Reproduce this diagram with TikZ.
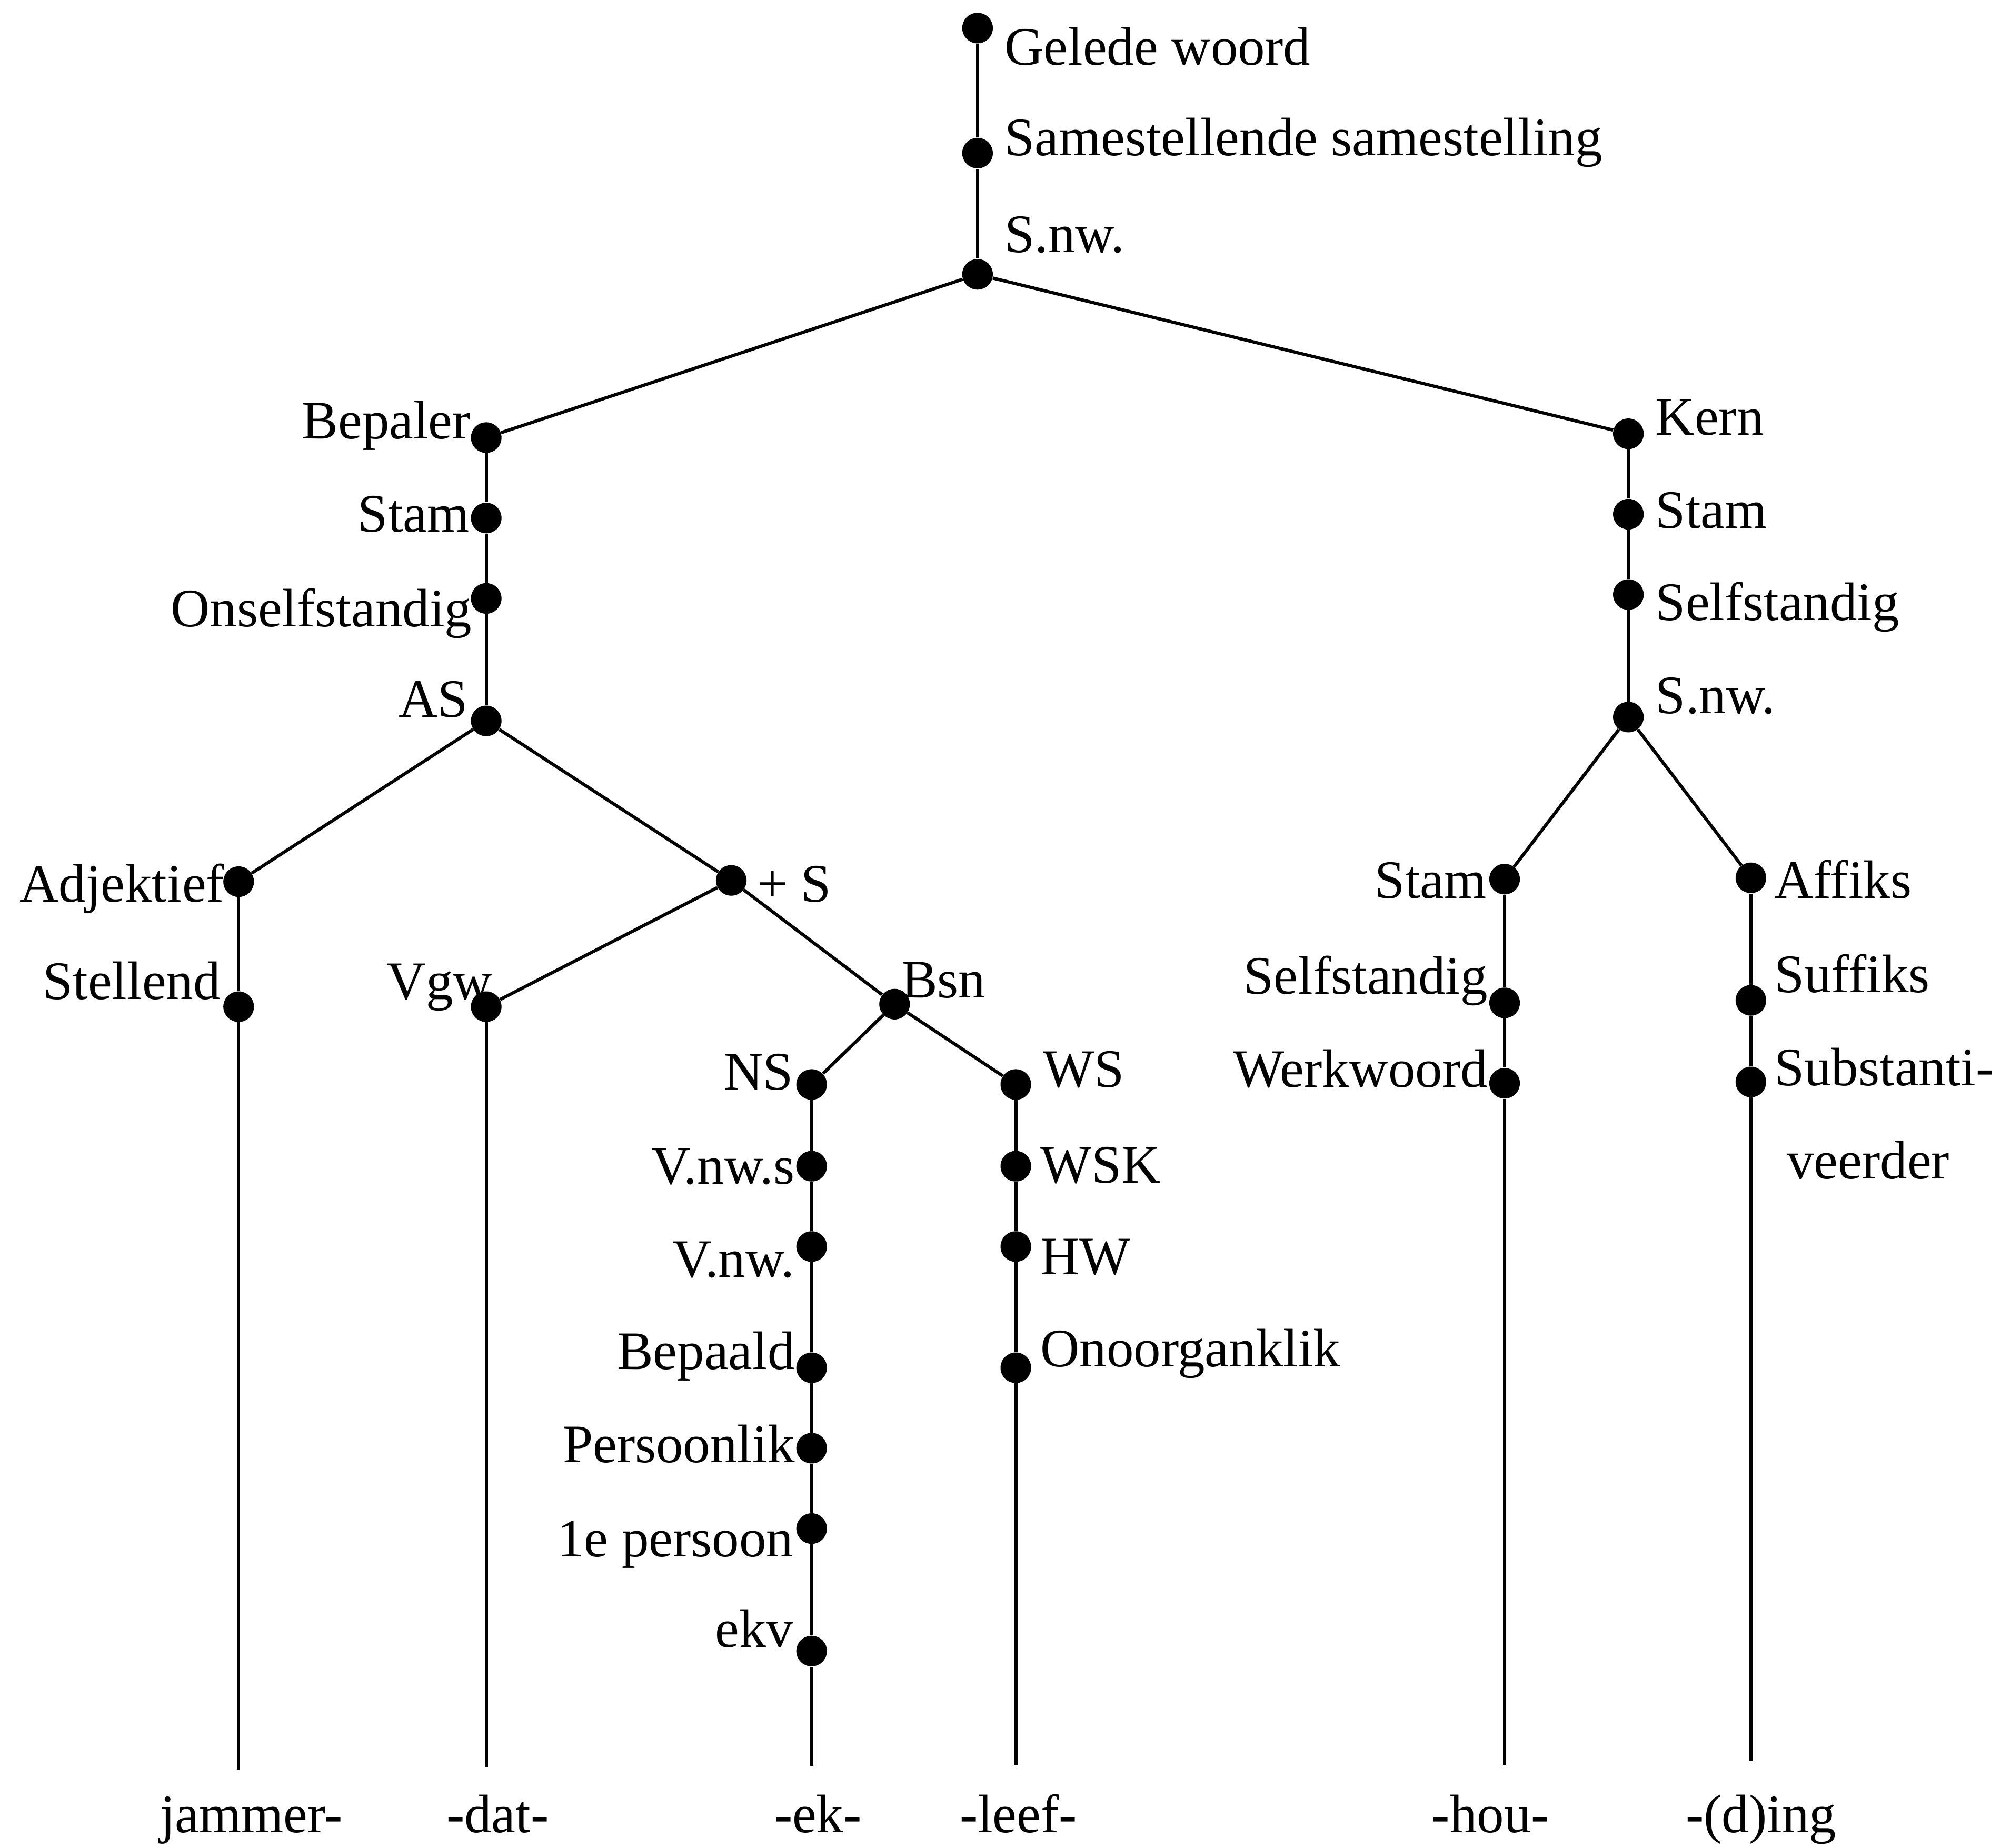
\documentclass[tikz,border=0pt]{standalone}
\usepackage{fontspec}
\setmainfont{Liberation Serif}
\begin{document}
\begin{tikzpicture}[x=0.025cm,y=-0.025cm,
  dot/.style={circle,fill=black,inner sep=0pt,minimum size=0.6cm},
  edge/.style={line width=1.8pt},
  lab/.style={inner sep=0pt,font=\fontsize{30.2}{34}\selectfont},
  labr/.style={lab,anchor=base west},
  labl/.style={lab,anchor=base east},
  word/.style={lab,anchor=base}]
\useasboundingbox (0,0) rectangle (1568,1448);

% dots of the tree
\node[dot] (gw)  at (766,22)  {};
\node[dot] (ss)  at (766,120) {};
\node[dot] (sn)  at (766,215) {};
\node[dot] (bp)  at (381,343) {};
\node[dot] (st1) at (381,406) {};
\node[dot] (on)  at (381,469) {};
\node[dot] (as)  at (381,565) {};
\node[dot] (adj) at (187,691) {};
\node[dot] (stl) at (187,789) {};
\node[dot] (ps)  at (573,690) {};
\node[dot] (vgw) at (381,789) {};
\node[dot] (bsn) at (701,787) {};
\node[dot] (ns)  at (636,850) {};
\node[dot] (vns) at (636,914) {};
\node[dot] (vn)  at (636,977) {};
\node[dot] (bpd) at (636,1072) {};
\node[dot] (prs) at (636,1135) {};
\node[dot] (ep)  at (636,1198) {};
\node[dot] (ekv) at (636,1294) {};
\node[dot] (ws)  at (796,850) {};
\node[dot] (wsk) at (796,914) {};
\node[dot] (hw)  at (796,977) {};
\node[dot] (oo)  at (796,1072) {};
\node[dot] (kn)  at (1276,340) {};
\node[dot] (st2) at (1276,403) {};
\node[dot] (sf1) at (1276,466) {};
\node[dot] (sn2) at (1276,562) {};
\node[dot] (st3) at (1179,689) {};
\node[dot] (sf2) at (1179,786) {};
\node[dot] (wk)  at (1179,849) {};
\node[dot] (af)  at (1372,688) {};
\node[dot] (sfx) at (1372,784) {};
\node[dot] (sub) at (1372,848) {};

% lower ends of the branches
\coordinate (e1) at (187,1387);
\coordinate (e2) at (381,1385);
\coordinate (e3) at (636,1384);
\coordinate (e4) at (796,1383);
\coordinate (e5) at (1179,1383);
\coordinate (e6) at (1372,1380);

% connectors
\draw[edge] (gw) -- (ss) -- (sn);
\draw[edge] (sn) -- (bp);
\draw[edge] (sn) -- (kn);
\draw[edge] (bp) -- (st1) -- (on) -- (as);
\draw[edge] (as) -- (adj);
\draw[edge] (as) -- (ps);
\draw[edge] (adj) -- (stl) -- (e1);
\draw[edge] (ps) -- (vgw);
\draw[edge] (vgw) -- (e2);
\draw[edge] (ps) -- (bsn);
\draw[edge] (bsn) -- (ns);
\draw[edge] (bsn) -- (ws);
\draw[edge] (ns) -- (vns) -- (vn) -- (bpd) -- (prs) -- (ep) -- (ekv) -- (e3);
\draw[edge] (ws) -- (wsk) -- (hw) -- (oo) -- (e4);
\draw[edge] (kn) -- (st2) -- (sf1) -- (sn2);
\draw[edge] (sn2) -- (st3);
\draw[edge] (sn2) -- (af);
\draw[edge] (st3) -- (sf2) -- (wk) -- (e5);
\draw[edge] (af) -- (sfx) -- (sub) -- (e6);

% labels
\node[labr] (lgw)  at (787,51)   {Gelede woord};
\node[labr] (lss)  at (787,122)  {Samestellende samestelling};
\node[labr] (lsn)  at (787,198)  {S.nw.};
\node[labl] (lbp)  at (369,344)  {Bepaler};
\node[labl] (lst1) at (368,417)  {Stam};
\node[labl] (lon)  at (370,491)  {Onselfstandig};
\node[labl] (las)  at (367,562)  {AS};
\node[labl] (ladj) at (176,707)  {Adjektief};
\node[labl] (lstl) at (173,783)  {Stellend};
\node[labr] (lps)  at (593,707)  {+ S};
\node[labl] (lvgw) at (386,783)  {Vgw};
\node[labr] (lbsn) at (706,782)  {Bsn};
\node[labl] (lns)  at (622,854)  {NS};
\node[labl] (lvns) at (623,928)  {V.nw.s};
\node[labl] (lvn)  at (623,1001) {V.nw.};
\node[labl] (lbpd) at (623,1073) {Bepaald};
\node[labl] (lprs) at (623,1146) {Persoonlik};
\node[labl] (lep)  at (622,1220) {1e persoon};
\node[labl] (lekv) at (622,1291) {ekv};
\node[labr] (lws)  at (817,852)  {WS};
\node[labr] (lwsk) at (815,927)  {WSK};
\node[labr] (lhw)  at (815,999)  {HW};
\node[labr] (loo)  at (815,1071) {Onoorganklik};
\node[labr] (lkn)  at (1297,341) {Kern};
\node[labr] (lst2) at (1297,414) {Stam};
\node[labr] (lsf1) at (1297,486) {Selfstandig};
\node[labr] (lsn2) at (1297,559) {S.nw.};
\node[labl] (lst3) at (1165,704) {Stam};
\node[labl] (lsf2) at (1166,779) {Selfstandig};
\node[labl] (lwk)  at (1166,852) {Werkwoord};
\node[labr] (laf)  at (1390,704) {Affiks};
\node[labr] (lsfx) at (1390,778) {Suffiks};
\node[labr] (lsub) at (1390,851) {Substanti-};
\node[labr] (lveer) at (1400,924) {veerder};

% words at the foot of the tree
\node[word] (w1) at (197,1436)  {jammer-};
\node[word] (w2) at (390,1436)  {-dat-};
\node[word] (w3) at (641,1436)  {-ek-};
\node[word] (w4) at (798,1436)  {-leef-};
\node[word] (w5) at (1168,1436) {-hou-};
\node[word] (w6) at (1380,1436) {-(d)ing};
\end{tikzpicture}
\end{document}
